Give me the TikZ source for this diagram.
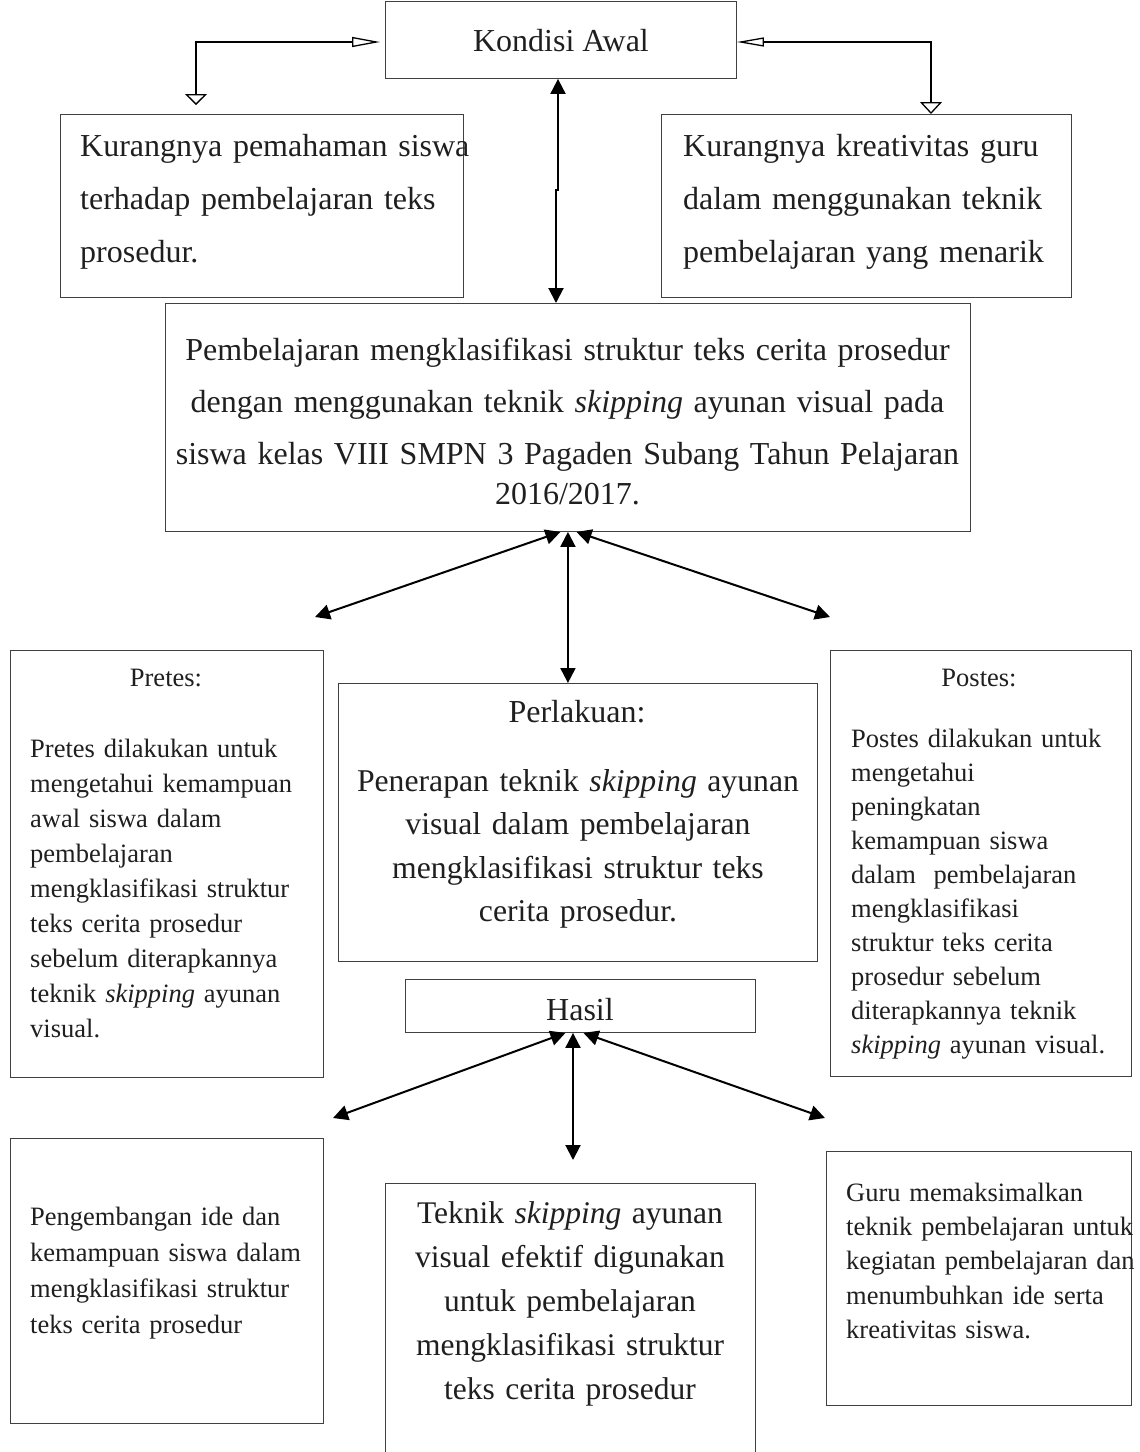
\documentclass[tikz,border=0pt]{standalone}
\usepackage{fontspec}
\setmainfont{Liberation Serif}
\usetikzlibrary{arrows.meta}
\tikzset{
  box/.style={draw=black!75, line width=0.9pt, inner sep=0pt, anchor=north west},
  txt/.style={text=black!88, inner sep=0pt},
  bigA/.style={txt, font=\fontsize{32}{53}\selectfont},
  bigB/.style={txt, font=\fontsize{31.7}{43.5}\selectfont},
  small/.style={txt, font=\fontsize{26.5}{35}\selectfont},
  dbl/.style={line width=2pt, {Triangle[length=15pt,width=15pt]}-{Triangle[length=15pt,width=15pt]}},
}
\begin{document}
\begin{tikzpicture}[x=1pt,y=-1pt]
\useasboundingbox (0,0) rectangle (1140,1452);

% boxes
\node[box, minimum width=351pt, minimum height=77.5pt] (kondisi) at (385,0.5) {};
\node[box, minimum width=403pt, minimum height=183pt] (kl) at (60,114) {};
\node[box, minimum width=410pt, minimum height=183pt] (kr) at (661,114) {};
\node[box, minimum width=805pt, minimum height=228pt] (pemb) at (165,303) {};
\node[box, minimum width=313pt, minimum height=427pt] (pretes) at (10,650) {};
\node[box, minimum width=479pt, minimum height=278pt] (perl) at (338,683) {};
\node[box, minimum width=301pt, minimum height=426pt] (postes) at (830,650) {};
\node[box, minimum width=350pt, minimum height=53pt] (hasil) at (405,979) {};
\node[box, minimum width=313pt, minimum height=285pt] (bl) at (10,1138) {};
\node[box, minimum width=370pt, minimum height=290pt] (bm) at (385,1183) {};
\node[box, minimum width=305pt, minimum height=254pt] (br) at (826,1151) {};

% texts
\node[bigA, anchor=base] (tkondisi) at (561,51) {Kondisi Awal};
\node[bigA, anchor=north west, text width=400pt, align=left] (tkl) at (80,118.9)
  {\strut Kurangnya pemahaman siswa\\terhadap pembelajaran teks\\prosedur.};
\node[bigA, anchor=north west, text width=400pt, align=left] (tkr) at (683,118.9)
  {\strut Kurangnya kreativitas guru\\dalam menggunakan teknik\\pembelajaran yang menarik};
\node[bigA, font=\fontsize{32}{52}\selectfont, anchor=north, text width=900pt, align=center] (tpemb) at (567.5,323.6)
  {\strut Pembelajaran mengklasifikasi struktur teks cerita prosedur\\dengan menggunakan teknik \textit{skipping} ayunan visual pada\\siswa kelas VIII SMPN 3 Pagaden Subang Tahun Pelajaran\\[-12pt]2016/2017.};

\node[small, anchor=base] (tpretesh) at (166,686) {Pretes:};
\node[small, anchor=north west, text width=300pt, align=left] (tpretes) at (30,732.5)
  {\strut Pretes dilakukan untuk\\mengetahui kemampuan\\awal siswa dalam\\pembelajaran\\mengklasifikasi struktur\\teks cerita prosedur\\sebelum diterapkannya\\teknik \textit{skipping} ayunan\\visual.};

\node[bigA, anchor=base] (tperlh) at (577,722) {Perlakuan:};
\node[bigB, anchor=north, text width=480pt, align=center] (tperl) at (578,760.6)
  {\strut Penerapan teknik \textit{skipping} ayunan\\visual dalam pembelajaran\\mengklasifikasi struktur teks\\cerita prosedur.};

\node[small, anchor=base] (tpostesh) at (979,686) {Postes:};
\node[small, font=\fontsize{26.5}{34}\selectfont, anchor=north west, text width=300pt, align=left] (tpostes) at (851,723.2)
  {\strut Postes dilakukan untuk\\mengetahui\\peningkatan\\kemampuan siswa\\dalam\ \ pembelajaran\\mengklasifikasi\\struktur teks cerita\\prosedur sebelum\\diterapkannya teknik\\\textit{skipping} ayunan visual.};

\node[bigA, anchor=base] (thasil) at (580,1020) {Hasil};

\node[small, font=\fontsize{26.5}{36}\selectfont, anchor=north west, text width=300pt, align=left] (tbl) at (30,1199.8)
  {\strut Pengembangan ide dan\\kemampuan siswa dalam\\mengklasifikasi struktur\\teks cerita prosedur};
\node[bigB, font=\fontsize{31.5}{44}\selectfont, anchor=north, text width=400pt, align=center] (tbm) at (570,1192.2)
  {\strut Teknik \textit{skipping} ayunan\\visual efektif digunakan\\untuk pembelajaran\\mengklasifikasi struktur\\teks cerita prosedur};
\node[small, font=\fontsize{26.5}{34.3}\selectfont, anchor=north west, text width=320pt, align=left] (tbr) at (846,1177)
  {\strut Guru memaksimalkan\\teknik pembelajaran untuk\\kegiatan pembelajaran dan\\menumbuhkan ide serta\\kreativitas siswa.};

% top open-head connectors
\coordinate (lc) at (196,42);
\coordinate (ld) at (196,105);
\draw[line width=1.3pt, shorten >=5pt,
  {Triangle[open,length=11pt,width=22pt]}-{Triangle[open,length=28pt,width=10pt]}]
  (ld) -- (lc) -- (kondisi.west |- lc);
\coordinate (rc) at (931,42);
\draw[line width=1.3pt,
  {Triangle[open,length=27pt,width=9pt]}-{Triangle[open,length=12pt,width=22pt]}]
  (kondisi.east |- rc) -- (rc) -- (rc |- kr.north);

% kondisi <-> pembelajaran
\coordinate (j1) at (558,190);
\coordinate (j2) at (556,190);
\draw[dbl] (kondisi.south -| j1) -- (j1) -- (j2) -- (j2 |- pemb.north);

% fan from pembelajaran
\coordinate (fl) at (315,617);
\coordinate (fr) at (830,617);
\draw[dbl] ([xshift=-7.5pt]pemb.south) -- (fl);
\draw[dbl] (pemb.south) -- (pemb.south |- perl.north);
\draw[dbl] ([xshift=8.5pt]pemb.south) -- (fr);

% fan from hasil
\coordinate (hl) at (333,1118);
\coordinate (hr) at (825,1118);
\coordinate (hd) at (573,1160);
\draw[dbl] ([xshift=-15pt]hasil.south) -- (hl);
\draw[dbl] (hasil.south -| hd) -- (hd);
\draw[dbl] ([xshift=3pt]hasil.south) -- (hr);
\end{tikzpicture}
\end{document}
